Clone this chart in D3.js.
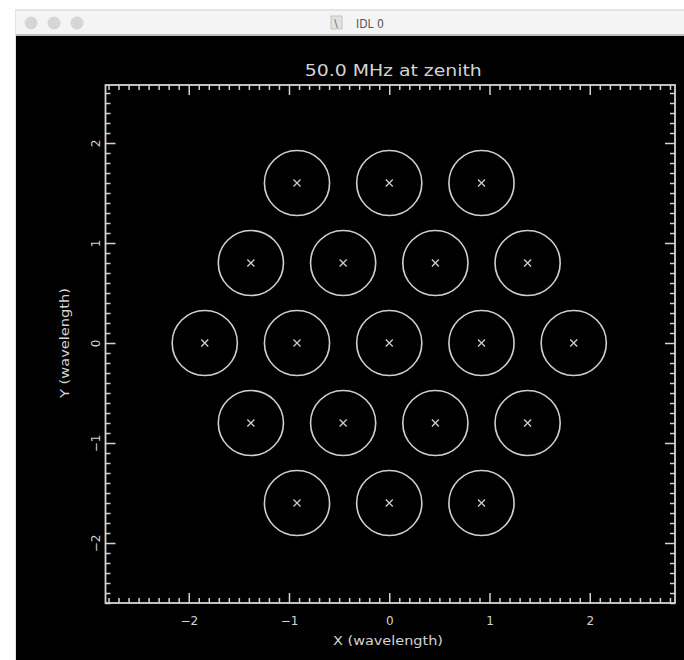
<!DOCTYPE html>
<html>
<head>
<meta charset="utf-8">
<script src="https://cdn.jsdelivr.net/npm/d3@7"></script>
<style>
  body { margin: 0; background: #ffffff; }
  svg { display: block; }
  .axis text { fill: #d4d4d4; font-family: "DejaVu Sans", sans-serif; font-size: 12px; }
  .axis line { stroke: #d4d4d4; stroke-width: 1.5; }
  .axis path { display: none; }
</style>
</head>
<body>
<svg id="win" width="684" height="660"></svg>
<script>
// antenna positions (wavelengths), hexagonal layout of 19 elements
var antennaX = [-0.92, 0, 0.92,
                -1.38, -0.46, 0.46, 1.38,
                -1.84, -0.92, 0, 0.92, 1.84,
                -1.38, -0.46, 0.46, 1.38,
                -0.92, 0, 0.92];
var antennaY = [1.6, 1.6, 1.6,
                0.8, 0.8, 0.8, 0.8,
                0, 0, 0, 0, 0,
                -0.8, -0.8, -0.8, -0.8,
                -1.6, -1.6, -1.6];
var beamRadius = 0.325;
var xMajorTicks = [-2, -1, 0, 1, 2];
var yMajorTicks = [-2, -1, 0, 1, 2];
var xDomain = [-2.83, 2.85];
var yDomain = [-2.6, 2.58];
var plotTitle = "50.0 MHz at zenith";
var xTitle = "X (wavelength)";
var yTitle = "Y (wavelength)";
var windowTitle = "IDL 0";

var svg = d3.select("#win");

// window chrome
svg.append("rect").attr("x", 15).attr("y", 9).attr("width", 680).attr("height", 660)
    .attr("fill", "#e4e4e4");
svg.append("rect").attr("x", 16).attr("y", 11).attr("width", 680).attr("height", 23)
    .attr("fill", "#f4f4f4");
svg.append("rect").attr("x", 16).attr("y", 34).attr("width", 680).attr("height", 2)
    .attr("fill", "#bdbdbd");
svg.append("rect").attr("x", 16).attr("y", 36).attr("width", 680).attr("height", 630)
    .attr("fill", "#000000");
svg.selectAll(".light")
    .data([31, 54, 77])
    .enter().append("circle")
    .attr("cx", function(d) { return d; })
    .attr("cy", 23)
    .attr("r", 6.5)
    .attr("fill", "#d6d6d6");
svg.append("rect").attr("x", 331).attr("y", 16).attr("width", 11).attr("height", 13)
    .attr("fill", "#e2e2e2").attr("stroke", "#bbbbbb").attr("stroke-width", 0.8);
svg.append("text").attr("x", 336).attr("y", 27).attr("text-anchor", "middle")
    .attr("font-family", "DejaVu Sans").attr("font-size", 10).attr("fill", "#666")
    .text("\\");
svg.append("text").attr("x", 370).attr("y", 28).attr("text-anchor", "middle")
    .attr("font-family", "DejaVu Sans Condensed, DejaVu Sans").attr("font-size", 12)
    .attr("fill", "#555").text(windowTitle);

// plot box in pixels
var plotLeft = 105.5, plotRight = 675, plotTop = 85, plotBottom = 603;

var xScale = d3.scaleLinear().domain(xDomain).range([plotLeft, plotRight]);
var yScale = d3.scaleLinear().domain(yDomain).range([plotBottom, plotTop]);

function minorTicks(domain) {
    var t = [];
    for (var i = Math.ceil(domain[0] * 10); i <= Math.floor(domain[1] * 10); i++) {
        if (i % 10 != 0) t.push(i / 10);
    }
    return t;
}

function fmt(d) { return d < 0 ? "\u2212" + Math.abs(d) : d; }

var g = svg.append("g");

// minor ticks on all four sides
g.append("g").attr("class", "axis").attr("transform", "translate(0," + plotBottom + ")")
    .call(d3.axisBottom(xScale).tickValues(minorTicks(xDomain)).tickSize(-5).tickFormat(""));
g.append("g").attr("class", "axis").attr("transform", "translate(0," + plotTop + ")")
    .call(d3.axisTop(xScale).tickValues(minorTicks(xDomain)).tickSize(-5).tickFormat(""));
g.append("g").attr("class", "axis").attr("transform", "translate(" + plotLeft + ",0)")
    .call(d3.axisLeft(yScale).tickValues(minorTicks(yDomain)).tickSize(-5).tickFormat(""));
g.append("g").attr("class", "axis").attr("transform", "translate(" + plotRight + ",0)")
    .call(d3.axisRight(yScale).tickValues(minorTicks(yDomain)).tickSize(-5).tickFormat(""));

// major ticks
g.append("g").attr("class", "axis").attr("transform", "translate(0," + plotBottom + ")")
    .call(d3.axisBottom(xScale).tickValues(xMajorTicks).tickSize(-10).tickPadding(13).tickFormat(fmt));
g.append("g").attr("class", "axis").attr("transform", "translate(0," + plotTop + ")")
    .call(d3.axisTop(xScale).tickValues(xMajorTicks).tickSize(-10).tickFormat(""));
g.append("g").attr("class", "axis").attr("transform", "translate(" + plotRight + ",0)")
    .call(d3.axisRight(yScale).tickValues(yMajorTicks).tickSize(-10).tickFormat(""));
g.append("g").attr("class", "axis").attr("transform", "translate(" + plotLeft + ",0)")
    .call(d3.axisLeft(yScale).tickValues(yMajorTicks).tickSize(-10).tickFormat(fmt))
    .selectAll("text")
    .attr("x", 0)
    .attr("dy", 0)
    .attr("text-anchor", "middle")
    .attr("transform", "translate(-5.5,0) rotate(-90)");

// box
g.append("rect")
    .attr("x", plotLeft).attr("y", plotTop)
    .attr("width", plotRight - plotLeft).attr("height", plotBottom - plotTop)
    .attr("fill", "none").attr("stroke", "#d4d4d4").attr("stroke-width", 1.8);

// beam circles
var pts = antennaX.map(function(d, i) { return {x: d, y: antennaY[i]}; });

g.selectAll(".beam")
    .data(pts)
    .enter().append("ellipse")
    .attr("cx", function(d) { return xScale(d.x); })
    .attr("cy", function(d) { return yScale(d.y); })
    .attr("rx", xScale(beamRadius) - xScale(0))
    .attr("ry", yScale(0) - yScale(beamRadius))
    .attr("fill", "none")
    .attr("stroke", "#cfcfcf")
    .attr("stroke-width", 1.6);

// x markers at antenna centres
var s = 3.5;
g.selectAll(".mark")
    .data(pts)
    .enter().append("path")
    .attr("d", function(d) {
        var cx = xScale(d.x), cy = yScale(d.y);
        return "M" + (cx - s) + "," + (cy - s) + "L" + (cx + s) + "," + (cy + s) +
               "M" + (cx - s) + "," + (cy + s) + "L" + (cx + s) + "," + (cy - s);
    })
    .attr("stroke", "#cfcfcf")
    .attr("stroke-width", 1.3);

// titles
svg.append("text")
    .attr("x", (plotLeft + plotRight) / 2 + 3).attr("y", 76)
    .attr("text-anchor", "middle")
    .attr("font-family", "DejaVu Sans").attr("font-size", 16)
    .attr("textLength", 177).attr("lengthAdjust", "spacingAndGlyphs")
    .attr("fill", "#d4d4d4")
    .text(plotTitle);

svg.append("text")
    .attr("x", 388).attr("y", 645)
    .attr("text-anchor", "middle")
    .attr("font-family", "DejaVu Sans").attr("font-size", 13)
    .attr("textLength", 110).attr("lengthAdjust", "spacingAndGlyphs")
    .attr("fill", "#d4d4d4")
    .text(xTitle);

svg.append("text")
    .attr("transform", "translate(69," + yScale(0) + ") rotate(-90)")
    .attr("text-anchor", "middle")
    .attr("font-family", "DejaVu Sans").attr("font-size", 13)
    .attr("textLength", 110).attr("lengthAdjust", "spacingAndGlyphs")
    .attr("fill", "#d4d4d4")
    .text(yTitle);
</script>
</body>
</html>
